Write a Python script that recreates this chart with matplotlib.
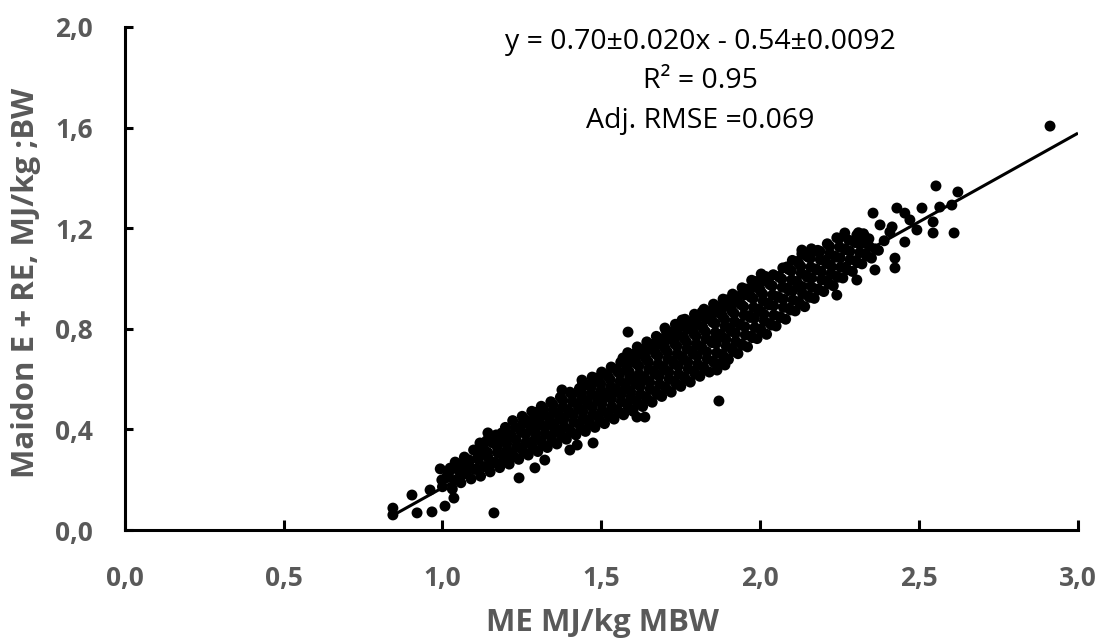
import matplotlib
matplotlib.use("Agg")
import matplotlib.pyplot as plt
from matplotlib.ticker import FuncFormatter

# ---- data: dense core of the cloud ----
me_core = [
    1.000, 1.012, 0.993,
    1.031, 1.040, 1.022,
    1.058, 1.071, 1.052,
    1.090, 1.101, 1.083,
    1.120, 1.131, 1.112, 1.125,
    1.150, 1.161, 1.142, 1.155,
    1.180, 1.191, 1.172, 1.185,
    1.210, 1.221, 1.202, 1.215, 1.198,
    1.240, 1.251, 1.232, 1.245,
    1.270, 1.281, 1.262, 1.275, 1.258,
    1.300, 1.311, 1.292, 1.305, 1.288,
    1.330, 1.341, 1.322, 1.335, 1.318,
    1.360, 1.371, 1.352, 1.365, 1.348,
    1.390, 1.401, 1.382, 1.395, 1.378,
    1.420, 1.431, 1.412, 1.425, 1.408,
    1.450, 1.461, 1.442, 1.455, 1.438, 1.458,
    1.480, 1.491, 1.472, 1.485, 1.468, 1.488,
    1.510, 1.521, 1.502, 1.515, 1.498, 1.518,
    1.540, 1.551, 1.532, 1.545, 1.528, 1.548,
    1.570, 1.581, 1.562, 1.575, 1.558, 1.578,
    1.600, 1.611, 1.592, 1.605, 1.588, 1.608, 1.597,
    1.630, 1.641, 1.622, 1.635, 1.618, 1.638, 1.627,
    1.660, 1.671, 1.652, 1.665, 1.648, 1.668, 1.657,
    1.690, 1.701, 1.682, 1.695, 1.678, 1.698, 1.687,
    1.720, 1.731, 1.712, 1.725, 1.708, 1.728, 1.717,
    1.750, 1.761, 1.742, 1.755, 1.738, 1.758, 1.747,
    1.780, 1.791, 1.772, 1.785, 1.768, 1.788, 1.777,
    1.810, 1.821, 1.802, 1.815, 1.798, 1.818, 1.807,
    1.840, 1.851, 1.832, 1.845, 1.828, 1.848, 1.837,
    1.870, 1.881, 1.862, 1.875, 1.858, 1.878, 1.867,
    1.900, 1.911, 1.892, 1.905, 1.888, 1.908, 1.897,
    1.930, 1.941, 1.922, 1.935, 1.918, 1.938, 1.927,
    1.960, 1.971, 1.952, 1.965, 1.948, 1.968, 1.957,
    1.990, 2.001, 1.982, 1.995, 1.978, 1.998, 1.987,
    2.020, 2.031, 2.012, 2.025, 2.008, 2.028, 2.017,
    2.050, 2.061, 2.042, 2.055, 2.038, 2.058,
    2.080, 2.091, 2.072, 2.085, 2.068, 2.088,
    2.110, 2.121, 2.102, 2.115, 2.098, 2.118,
    2.140, 2.151, 2.132, 2.145, 2.128, 2.148,
    2.170, 2.181, 2.162, 2.175, 2.158, 2.178,
    2.200, 2.211, 2.192, 2.205, 2.188,
    2.230, 2.241, 2.222, 2.235, 2.218,
    2.260, 2.271, 2.252, 2.265, 2.248,
    2.290, 2.301, 2.282, 2.295,
    2.320, 2.331, 2.312, 2.325,
    2.350, 2.361, 2.342,
]
maidon_core = [
    0.172, 0.208, 0.243,
    0.163, 0.198, 0.233,
    0.188, 0.224, 0.262,
    0.203, 0.241, 0.279,
    0.214, 0.252, 0.291, 0.318,
    0.231, 0.268, 0.309, 0.348,
    0.248, 0.292, 0.331, 0.366,
    0.262, 0.301, 0.343, 0.379, 0.408,
    0.281, 0.322, 0.358, 0.398,
    0.298, 0.338, 0.381, 0.418, 0.442,
    0.312, 0.353, 0.392, 0.428, 0.461,
    0.328, 0.372, 0.408, 0.448, 0.482,
    0.342, 0.383, 0.421, 0.463, 0.498,
    0.361, 0.398, 0.441, 0.478, 0.518,
    0.378, 0.421, 0.458, 0.502, 0.538,
    0.392, 0.432, 0.471, 0.512, 0.548, 0.577,
    0.408, 0.449, 0.488, 0.531, 0.568, 0.598,
    0.423, 0.462, 0.502, 0.538, 0.581, 0.618,
    0.441, 0.478, 0.521, 0.562, 0.598, 0.638,
    0.458, 0.502, 0.538, 0.581, 0.621, 0.657,
    0.472, 0.512, 0.551, 0.592, 0.628, 0.668, 0.698,
    0.491, 0.528, 0.571, 0.608, 0.652, 0.688, 0.718,
    0.508, 0.551, 0.588, 0.632, 0.668, 0.711, 0.738,
    0.531, 0.568, 0.612, 0.648, 0.692, 0.728, 0.761,
    0.548, 0.591, 0.628, 0.671, 0.708, 0.752, 0.788,
    0.571, 0.608, 0.652, 0.688, 0.731, 0.768, 0.808,
    0.588, 0.632, 0.668, 0.712, 0.748, 0.791, 0.828,
    0.611, 0.648, 0.692, 0.728, 0.771, 0.808, 0.848,
    0.628, 0.671, 0.708, 0.752, 0.788, 0.831, 0.868,
    0.661, 0.698, 0.742, 0.778, 0.821, 0.858, 0.888,
    0.678, 0.721, 0.758, 0.802, 0.838, 0.881, 0.908,
    0.701, 0.738, 0.782, 0.818, 0.861, 0.898, 0.928,
    0.728, 0.771, 0.808, 0.852, 0.888, 0.931, 0.958,
    0.761, 0.798, 0.842, 0.878, 0.921, 0.958, 0.988,
    0.778, 0.821, 0.858, 0.902, 0.938, 0.981, 1.008,
    0.811, 0.848, 0.892, 0.928, 0.971, 1.008,
    0.838, 0.881, 0.918, 0.962, 0.998, 1.038,
    0.871, 0.908, 0.952, 0.988, 1.031, 1.068,
    0.888, 0.931, 0.968, 1.012, 1.048, 1.088,
    0.921, 0.958, 1.002, 1.038, 1.081, 1.108,
    0.948, 0.991, 1.028, 1.072, 1.108,
    0.971, 1.008, 1.052, 1.088, 1.128,
    1.002, 1.038, 1.082, 1.118, 1.158,
    1.028, 1.071, 1.108, 1.148,
    1.058, 1.098, 1.138, 1.178,
    1.081, 1.118, 1.158,
]

# ---- data: in-between points of the cloud ----
me_fill = [
    1.016, 1.024,
    1.045, 1.052, 1.040,
    1.075, 1.083, 1.069,
    1.105, 1.113, 1.098,
    1.135, 1.143, 1.128, 1.139,
    1.165, 1.173, 1.158, 1.169,
    1.195, 1.203, 1.188, 1.199,
    1.225, 1.233, 1.218, 1.229, 1.221,
    1.255, 1.263, 1.248, 1.259, 1.251,
    1.285, 1.293, 1.278, 1.289, 1.281,
    1.315, 1.323, 1.308, 1.319, 1.311,
    1.345, 1.353, 1.338, 1.349, 1.341,
    1.375, 1.383, 1.368, 1.379, 1.371,
    1.405, 1.413, 1.398, 1.409, 1.401,
    1.435, 1.443, 1.428, 1.439, 1.431, 1.441,
    1.465, 1.473, 1.458, 1.469, 1.461, 1.471,
    1.495, 1.503, 1.488, 1.499, 1.491, 1.501,
    1.525, 1.533, 1.518, 1.529, 1.521, 1.531,
    1.555, 1.563, 1.548, 1.559, 1.551, 1.561,
    1.585, 1.593, 1.578, 1.589, 1.581, 1.591, 1.583,
    1.615, 1.623, 1.608, 1.619, 1.611, 1.621, 1.613,
    1.645, 1.653, 1.638, 1.649, 1.641, 1.651, 1.643,
    1.675, 1.683, 1.668, 1.679, 1.671, 1.681, 1.673,
    1.705, 1.713, 1.698, 1.709, 1.701, 1.711, 1.703,
    1.735, 1.743, 1.728, 1.739, 1.731, 1.741, 1.733,
    1.765, 1.773, 1.758, 1.769, 1.761, 1.771, 1.763,
    1.795, 1.803, 1.788, 1.799, 1.791, 1.801, 1.793,
    1.825, 1.833, 1.818, 1.829, 1.821, 1.831, 1.823,
    1.855, 1.863, 1.848, 1.859, 1.851, 1.861, 1.853,
    1.885, 1.893, 1.878, 1.889, 1.881, 1.891, 1.883,
    1.915, 1.923, 1.908, 1.919, 1.911, 1.921, 1.913,
    1.945, 1.953, 1.938, 1.949, 1.941, 1.951, 1.943,
    1.975, 1.983, 1.968, 1.979, 1.971, 1.981, 1.973,
    2.005, 2.013, 1.998, 2.009, 2.001, 2.011, 2.003,
    2.035, 2.043, 2.028, 2.039, 2.031, 2.041,
    2.065, 2.073, 2.058, 2.069, 2.061, 2.071,
    2.095, 2.103, 2.088, 2.099, 2.091, 2.101,
    2.125, 2.133, 2.118, 2.129, 2.121, 2.131,
    2.155, 2.163, 2.148, 2.159, 2.151, 2.161,
    2.185, 2.193, 2.178, 2.189, 2.181,
    2.215, 2.223, 2.208, 2.219, 2.211,
    2.245, 2.253, 2.238, 2.249, 2.241,
    2.275, 2.283, 2.268, 2.279,
    2.305, 2.313, 2.298, 2.309,
    2.335, 2.343, 2.328,
]
maidon_fill = [
    0.210, 0.246,
    0.200, 0.235, 0.270,
    0.226, 0.263, 0.290,
    0.242, 0.280, 0.318,
    0.252, 0.290, 0.325, 0.355,
    0.269, 0.308, 0.348, 0.378,
    0.278, 0.318, 0.358, 0.392,
    0.292, 0.331, 0.370, 0.409, 0.435,
    0.309, 0.349, 0.389, 0.428, 0.452,
    0.325, 0.365, 0.406, 0.445, 0.472,
    0.340, 0.382, 0.420, 0.458, 0.492,
    0.355, 0.398, 0.435, 0.475, 0.510,
    0.372, 0.411, 0.451, 0.490, 0.528,
    0.389, 0.430, 0.469, 0.510, 0.548,
    0.405, 0.446, 0.485, 0.527, 0.563, 0.585,
    0.420, 0.460, 0.500, 0.541, 0.578, 0.608,
    0.435, 0.475, 0.515, 0.555, 0.595, 0.628,
    0.452, 0.490, 0.531, 0.570, 0.610, 0.648,
    0.470, 0.510, 0.550, 0.591, 0.630, 0.667,
    0.485, 0.527, 0.565, 0.607, 0.645, 0.683, 0.705,
    0.501, 0.540, 0.581, 0.620, 0.660, 0.698, 0.728,
    0.520, 0.560, 0.600, 0.640, 0.680, 0.720, 0.748,
    0.540, 0.580, 0.620, 0.660, 0.700, 0.740, 0.770,
    0.560, 0.600, 0.640, 0.680, 0.720, 0.760, 0.795,
    0.580, 0.620, 0.660, 0.700, 0.740, 0.780, 0.818,
    0.600, 0.640, 0.680, 0.720, 0.760, 0.800, 0.838,
    0.620, 0.660, 0.700, 0.740, 0.780, 0.820, 0.858,
    0.640, 0.680, 0.720, 0.760, 0.800, 0.840, 0.878,
    0.665, 0.705, 0.745, 0.785, 0.825, 0.865, 0.898,
    0.690, 0.730, 0.770, 0.810, 0.850, 0.890, 0.918,
    0.710, 0.750, 0.790, 0.830, 0.870, 0.910, 0.938,
    0.735, 0.775, 0.815, 0.855, 0.895, 0.935, 0.963,
    0.765, 0.805, 0.845, 0.885, 0.925, 0.965, 0.993,
    0.790, 0.830, 0.870, 0.910, 0.950, 0.990, 1.018,
    0.815, 0.855, 0.895, 0.935, 0.975, 1.015,
    0.845, 0.885, 0.925, 0.965, 1.005, 1.042,
    0.875, 0.915, 0.955, 0.995, 1.035, 1.072,
    0.900, 0.940, 0.980, 1.020, 1.060, 1.098,
    0.925, 0.965, 1.005, 1.045, 1.085, 1.118,
    0.955, 0.995, 1.035, 1.075, 1.112,
    0.980, 1.020, 1.060, 1.100, 1.138,
    1.005, 1.045, 1.085, 1.125, 1.162,
    1.035, 1.075, 1.115, 1.152,
    1.063, 1.103, 1.143, 1.182,
    1.090, 1.128, 1.168,
]

# ---- data: sparse / edge points ----
me_sparse = [
    0.844, 0.844, 0.904, 0.920, 0.961, 0.967, 1.008, 1.036, 0.998, 1.017,
    1.061, 1.118, 1.143, 1.187, 1.162, 1.241, 1.291, 1.322, 1.298, 1.254,
    1.474, 1.401, 1.584, 1.568, 1.376, 1.439, 1.480, 1.612, 1.637, 1.424,
    1.700, 1.870, 1.864, 1.889, 1.754, 1.817, 1.895, 1.946, 1.999, 2.084,
    2.355, 2.430, 2.424, 2.424, 2.266, 2.131, 2.241, 2.361, 2.304, 2.455,
    2.553, 2.544, 2.912, 2.622, 2.603, 2.565, 2.610, 2.544, 2.509, 2.455,
    2.471, 2.377, 2.493, 2.408, 2.324, 2.304, 2.390, 2.372, 2.415,
]
maidon_sparse = [
    0.060, 0.087, 0.139, 0.068, 0.159, 0.072, 0.095, 0.127, 0.199, 0.227,
    0.247, 0.346, 0.386, 0.386, 0.068, 0.207, 0.247, 0.278, 0.469, 0.429,
    0.346, 0.318, 0.787, 0.684, 0.557, 0.596, 0.604, 0.449, 0.449, 0.338,
    0.803, 0.513, 0.636, 0.656, 0.835, 0.867, 0.915, 0.946, 0.986, 1.046,
    1.260, 1.280, 1.081, 1.042, 1.181, 1.113, 0.934, 1.034, 0.994, 1.145,
    1.368, 1.181, 1.606, 1.344, 1.292, 1.284, 1.181, 1.225, 1.280, 1.260,
    1.233, 1.213, 1.193, 1.185, 1.141, 1.173, 1.150, 1.112, 1.205,
]

# ---- fitted trendline (as shown) ----
fit_slope = 0.705
fit_intercept = -0.537
fit_x_range = [0.845, 3.0]

x_ticks = [0.0, 0.5, 1.0, 1.5, 2.0, 2.5, 3.0]
y_ticks = [0.0, 0.4, 0.8, 1.2, 1.6, 2.0]

eq_lines = ["y = 0.70\u00b10.020x - 0.54\u00b10.0092", "R\u00b2 = 0.95", "Adj. RMSE =0.069"]
x_title = "ME MJ/kg MBW"
y_title = "Maidon E + RE, MJ/kg ;BW"

plt.rcParams['font.family'] = ['Open Sans', 'DejaVu Sans']
grey = '#595959'

fig = plt.figure(figsize=(11.05, 6.39), dpi=100)
ax = fig.add_axes([124.7 / 1105, 1 - 530 / 639, (1078 - 124.7) / 1105, (530 - 27) / 639])

all_x = me_core + me_fill + me_sparse
all_y = maidon_core + maidon_fill + maidon_sparse
ax.scatter(all_x, all_y, s=62, c='black', edgecolors='none', zorder=3, clip_on=False)
lx = fit_x_range
ly = [fit_slope * v + fit_intercept for v in lx]
ax.plot(lx, ly, color='black', lw=2.2, zorder=2, solid_capstyle='butt')

ax.set_xlim(x_ticks[0], x_ticks[-1])
ax.set_ylim(y_ticks[0], y_ticks[-1])
ax.set_xticks(x_ticks)
ax.set_yticks(y_ticks)
fmt = FuncFormatter(lambda v, p: f"{v:.1f}".replace('.', ','))
ax.xaxis.set_major_formatter(fmt)
ax.yaxis.set_major_formatter(fmt)

for s in ['top', 'right']:
    ax.spines[s].set_visible(False)
for s in ['left', 'bottom']:
    ax.spines[s].set_linewidth(2.2)
    ax.spines[s].set_color('black')

ax.tick_params(axis='x', direction='in', length=7, width=2.2, pad=25,
               labelsize=19, labelcolor=grey)
ax.tick_params(axis='y', direction='in', length=6, width=2.2, pad=23,
               labelsize=19, labelcolor=grey)
for lab in ax.get_xticklabels() + ax.get_yticklabels():
    lab.set_fontweight('bold')

fig.text(602 / 1105, 1 - 623 / 639, x_title, ha='center', va='center',
         fontsize=22.5, fontweight='bold', color=grey)
fig.text(26 / 1105, 1 - 283 / 639, y_title, ha='center', va='center',
         rotation=90, fontsize=22.5, fontweight='bold', color=grey)

for yy, txt in zip([42, 81, 121], eq_lines):
    fig.text(700 / 1105, 1 - yy / 639, txt, ha='center', va='center',
             fontsize=20.5, color='black')

fig.savefig('out.png', dpi=100)
